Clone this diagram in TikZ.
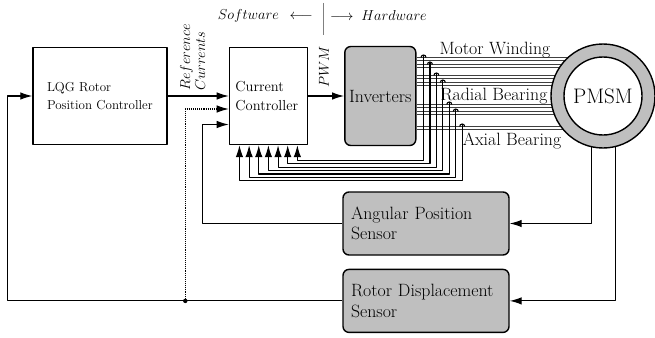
\documentclass[tikz,border=0pt]{standalone}
\usepackage{tikz}
\usetikzlibrary{arrows.meta,positioning}

\begin{document}
\begin{tikzpicture}[
    x=1pt, y=-1pt, line join=round,
    box/.style={draw, line width=1.4pt, minimum height=97pt, align=left},
    gbox/.style={draw, line width=1.4pt, fill=gray!50, rounded corners=6pt, align=left},
    arr/.style={-{Latex[length=12pt,width=7.5pt]}, line width=1.1pt},
    wire/.style={line width=0.7pt, black!75},
    fb/.style={line width=1.1pt},
    lbl/.style={font=\fontsize{13.4}{15}\selectfont, inner sep=0pt},
    big/.style={font=\fontsize{17.8}{20.5}\selectfont},
]
\useasboundingbox (0,0) rectangle (655,337);

% software / hardware split
\node[lbl, anchor=east] (sw) at (313,16) {$Software\enspace\longleftarrow$};
\node[lbl, anchor=west] (hw) at (330,16) {$\longrightarrow\;Hardware$};
\draw[gray, line width=0.8pt] (323,3) -- (323,35);

% blocks
\node[box, text width=106pt, inner xsep=14pt, font=\fontsize{13}{18.4}\selectfont] (lqg) at (100,96) {LQG Rotor\\Position Controller};
\node[box, text width=66pt, inner xsep=6pt, font=\fontsize{14.5}{18.7}\selectfont, right=61pt of lqg] (cc) {Current\\Controller};
\node[gbox, big, minimum width=71pt, minimum height=99pt, right=36pt of cc] (inv) {Inverters};
\node[gbox, big, text width=150pt, inner xsep=8pt, minimum height=63pt] (aps) at (426,223.5) {Angular Position\\Sensor};
\node[gbox, big, text width=150pt, inner xsep=8pt, minimum height=63pt, below=13pt of aps] (rds) {Rotor Displacement\\Sensor};

% winding pairs
\foreach \d in {-38.5,-31.5,-20.5,-13.5,8.5,15.5,30.5} {
  \draw[wire] (inv.east) ++(0,\d) -- ++(190,0);
  \draw[wire] (inv.east) ++(0,\d+3.3) -- ++(190,0);
}

\node[circle, draw, line width=1.4pt, fill=gray!50, minimum size=104pt] (pmsm) at (603,96) {};
\node[circle, draw, line width=1.4pt, fill=white, minimum size=78pt, font=\fontsize{21}{24}\selectfont] (rotor) at (pmsm) {PMSM};

\node[big] (mw) at (495,50) {Motor Winding};
\node[big] (rb) at (494,96.5) {Radial Bearing};
\node[big] (ab) at (512,141.5) {Axial Bearing};

\node[lbl, rotate=90, anchor=west, align=left] (refc) at (192.5,91) {$Reference$\\$Currents$};
\node[lbl, rotate=90, anchor=west] (pwm) at (324,88) {$PWM$};

\draw[arr] (lqg) -- (cc);
\draw[arr] (cc) -- (inv);

% current sensors back to the controller
\foreach \d [count=\i from 0] in {-38.5,-31.5,-20.5,-13.5,8.5,15.5,30.5} {
  \coordinate (s\i) at ([shift={({7+6.45*\i},\d)}]inv.east);
  \coordinate (r\i) at ([shift={({(3-\i)*9.65},{15+3.45*\i})}]cc.south);
  \draw[fb] ([xshift=-2.5pt]s\i) arc[start angle=180, end angle=0, radius=2.5pt];
  \draw[arr] ([yshift=2.5pt]s\i) |- (r\i) -- (r\i |- cc.south);
}

\draw[arr] (pmsm.257) |- (aps.east);
\draw[arr] (pmsm.284) |- (rds.east);

\coordinate (ccin) at ([yshift=-28.5pt]cc.west);
\draw[arr] (aps.west) -| ([xshift=-26pt]ccin) -- (ccin);

\coordinate (tap) at ([xshift=-157pt]rds.west);
\coordinate (ccdot) at ([yshift=-13pt]cc.west);
\draw[arr, densely dotted] (tap) |- (ccdot);
\fill (tap) circle[radius=2.2pt];

\draw[arr] (rds.west) -| ([xshift=-25pt]lqg.west) -- (lqg.west);
\end{tikzpicture}
\end{document}
